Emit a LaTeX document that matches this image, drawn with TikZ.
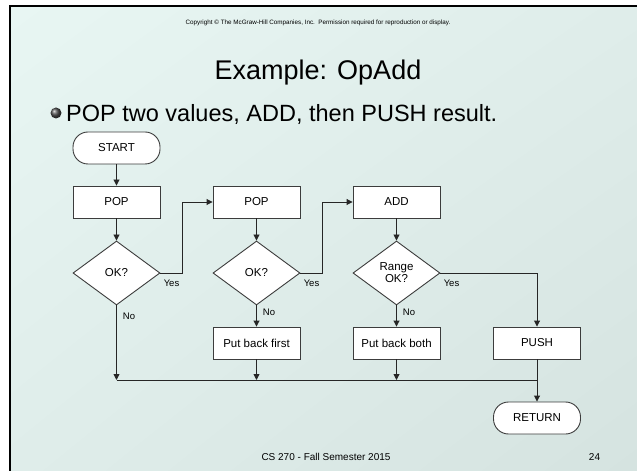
\documentclass[tikz,border=0pt]{standalone}
\usepackage{fontspec}
\setmainfont{Liberation Sans}
\usetikzlibrary{shapes.geometric,arrows.meta,shadings}
\definecolor{bgA}{RGB}{232,246,243}
\definecolor{bgB}{RGB}{223,237,234}
\definecolor{bgC}{RGB}{213,227,224}
\definecolor{edge}{RGB}{60,60,60}
\begin{document}
\begin{tikzpicture}[x=1bp,y=-1bp,
  procbox/.style={draw=edge,fill=white,line width=0.9bp,minimum width=87bp,minimum height=32bp,inner sep=0pt,font=\fontsize{11.5bp}{13bp}\selectfont},
  termbox/.style={procbox,rounded corners=15bp},
  decbox/.style={diamond,draw=edge,fill=white,line width=0.9bp,minimum width=87bp,minimum height=64bp,inner sep=0pt,aspect=1.36,align=center,font=\fontsize{11.5bp}{13bp}\selectfont},
  arr/.style={draw=black!85,line width=0.9bp,-{Triangle[length=6bp,width=6bp]}},
  ln/.style={draw=black!85,line width=0.9bp},
  lbl/.style={font=\fontsize{9.5bp}{11bp}\selectfont,inner sep=0pt}]
\useasboundingbox (0,0) rectangle (637,471);
\fill[white] (0,0) rectangle (637,471);
\shade[upper left=bgA,upper right=bgB,lower left=bgB,lower right=bgC] (10,6) rectangle (637,471);
\draw[line width=2.5bp] (10,471) -- (10,6) -- (637,6);
% header
\node[anchor=base,inner sep=0pt,font=\fontsize{6.3bp}{7bp}\selectfont] (copy) at (318,24.3) {Copyright © The McGraw-Hill Companies, Inc.\ \ Permission required for reproduction or display.};
\node[anchor=base,inner sep=0pt,font=\fontsize{27bp}{30bp}\selectfont] (title) at (318,79.7) {Example: OpAdd};
\shade[ball color=black!70] (56,113) circle (5.5bp);
\node[anchor=base west,inner sep=0pt,font=\fontsize{23.5bp}{26bp}\selectfont] (bul) at (66,121.5) {POP two values, ADD, then PUSH result.};
% flowchart nodes
\node[termbox] (start) at (116.5,148) {START};
\node[procbox] (pop1) at (116.5,202) {POP};
\node[decbox] (ok1) at (116.5,273) {OK?};
\node[procbox] (pop2) at (256.5,202) {POP};
\node[decbox] (ok2) at (256.5,273) {OK?};
\node[procbox] (pb1) at (256.5,343) {Put back first};
\node[procbox] (add) at (396.5,202) {ADD};
\node[decbox] (ok3) at (396.5,273) {Range\\[-1bp]OK?};
\node[procbox] (pb2) at (396.5,343) {Put back both};
\node[procbox] (push) at (537,343) {PUSH};
\node[termbox] (ret) at (537,418) {RETURN};
\coordinate (j1) at (116.5,380);
\coordinate (j2) at (256.5,380);
\coordinate (j3) at (396.5,380);
\coordinate (j4) at (537,380);
\coordinate (b1) at (182,273);
\coordinate (b2) at (322,273);
% connectors
\draw[arr] (start) -- (pop1);
\draw[arr] (pop1) -- (ok1);
\draw[arr] (ok1.east) -- (b1) |- (pop2.west);
\draw[arr] (pop2) -- (ok2);
\draw[arr] (ok2.east) -- (b2) |- (add.west);
\draw[arr] (add) -- (ok3);
\draw[arr] (ok3.east) -| (push.north);
\draw[arr] (ok2.south) -- (pb1.north);
\draw[arr] (ok3.south) -- (pb2.north);
\draw[arr] (ok1.south) -- (j1);
\draw[arr] (pb1.south) -- (j2);
\draw[arr] (pb2.south) -- (j3);
\draw[ln] (j1) -- (j4);
\draw[arr] (push.south) -- (ret.north);
% labels
\node[lbl] (y1) at (171.5,283) {Yes};
\node[lbl] (y2) at (311.5,283) {Yes};
\node[lbl] (y3) at (451.5,283) {Yes};
\node[lbl] (n1) at (129,316) {No};
\node[lbl] (n2) at (269,312) {No};
\node[lbl] (n3) at (409,312) {No};
% footer
\node[anchor=base,inner sep=0pt,font=\fontsize{10bp}{12bp}\selectfont] (foot) at (326,460.6) {CS 270 - Fall Semester 2015};
\node[anchor=base,inner sep=0pt,font=\fontsize{10bp}{12bp}\selectfont] (pg) at (594.5,460.6) {24};
\end{tikzpicture}
\end{document}
